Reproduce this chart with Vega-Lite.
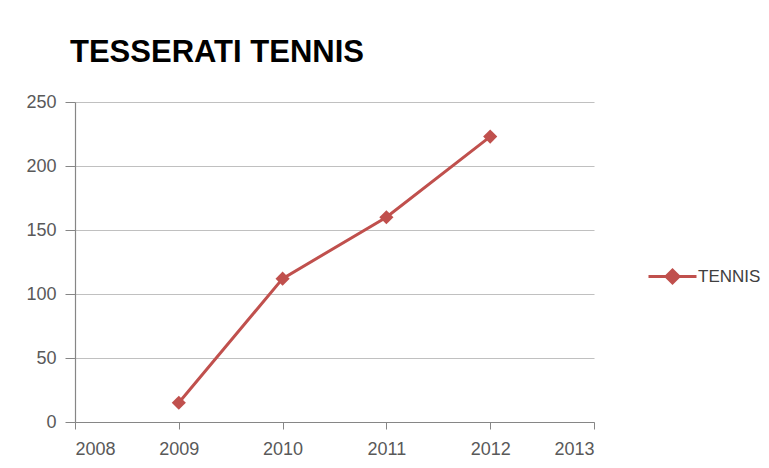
{
  "$schema": "https://vega.github.io/schema/vega-lite/v6.json",
  "width": 519,
  "height": 320,
  "autosize": {"type": "none"},
  "padding": {"left": 75, "top": 102, "right": 175, "bottom": 46},
  "background": "white",
  "title": {
    "text": "TESSERATI TENNIS",
    "anchor": "start",
    "frame": "group",
    "font": "Liberation Sans",
    "fontSize": 31,
    "fontWeight": "bold",
    "color": "#000000",
    "offset": 24,
    "dx": -5
  },
  "data": {
    "values": [
      {"year": 2009, "value": 15, "series": "TENNIS"},
      {"year": 2010, "value": 112, "series": "TENNIS"},
      {"year": 2011, "value": 160, "series": "TENNIS"},
      {"year": 2012, "value": 223, "series": "TENNIS"}
    ]
  },
  "mark": {
    "type": "line",
    "strokeWidth": 3,
    "point": {"shape": "diamond", "size": 200, "filled": true}
  },
  "encoding": {
    "x": {
      "field": "year",
      "type": "quantitative",
      "scale": {"domain": [2008, 2013], "nice": false, "zero": false},
      "axis": {
        "values": [2008, 2009, 2010, 2011, 2012, 2013],
        "format": "d",
        "title": null,
        "grid": false,
        "tickSize": 7,
        "labelPadding": 11
      }
    },
    "y": {
      "field": "value",
      "type": "quantitative",
      "scale": {"domain": [0, 250], "nice": false},
      "axis": {
        "values": [0, 50, 100, 150, 200, 250],
        "title": null,
        "grid": true,
        "tickSize": 10,
        "labelPadding": 9
      }
    },
    "color": {
      "field": "series",
      "type": "nominal",
      "scale": {"range": ["#c0504d"]},
      "legend": {
        "title": null,
        "orient": "none",
        "legendX": 572,
        "legendY": 149,
        "symbolType": "M-1,0L1,0M-0.27,0L0,-0.27L0.27,0L0,0.27Z",
        "symbolSize": 2304,
        "symbolStrokeWidth": 3,
        "labelOffset": 0,
        "labelFont": "Liberation Sans",
        "labelFontSize": 17,
        "labelColor": "#404040",
        "encode": {"symbols": {"update": {"fill": {"value": "#c0504d"}, "stroke": {"value": "#c0504d"}}}}
      }
    }
  },
  "config": {
    "view": {"stroke": null},
    "axis": {
      "labelFont": "Liberation Sans",
      "labelFontSize": 18,
      "labelColor": "#595959",
      "domainColor": "#868686",
      "tickColor": "#868686",
      "gridColor": "#c0c0c0",
      "gridWidth": 1.2,
      "domainWidth": 1.2
    }
  }
}
